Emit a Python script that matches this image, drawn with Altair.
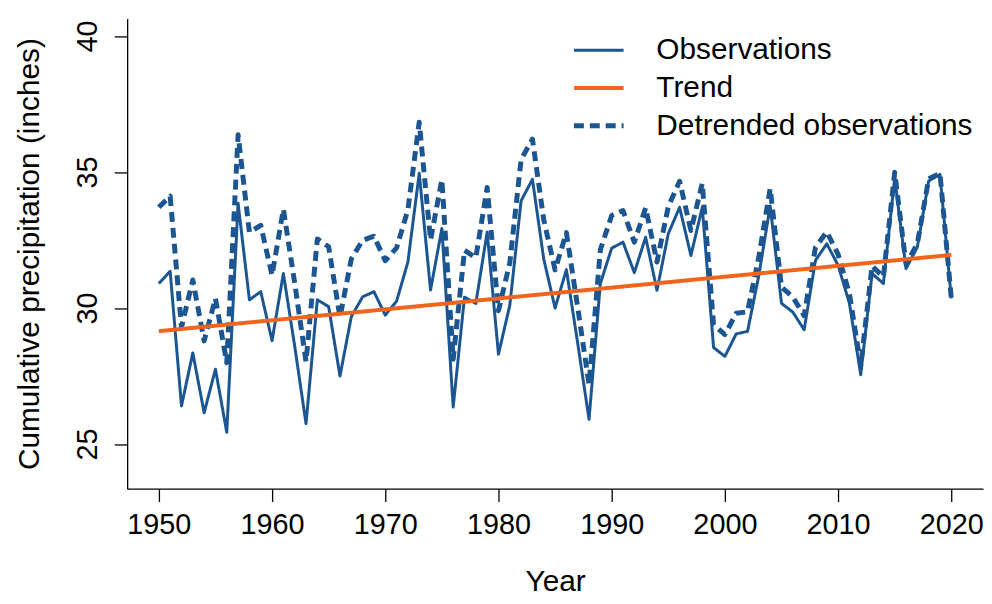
import altair as alt
import pandas as pd

years = list(range(1950, 2021))
observations = [
    30.90, 31.35, 26.40, 28.35, 26.15, 27.75, 25.43, 33.85, 30.30, 30.60,
    28.80, 31.27, 28.60, 25.75, 30.30, 30.05, 27.50, 29.68, 30.41, 30.60,
    29.74, 30.25, 31.69, 34.95, 30.66, 32.92, 26.36, 30.40, 30.17, 32.79,
    28.30, 30.10, 33.94, 34.73, 31.80, 30.00, 31.41, 28.70, 25.91, 30.90,
    32.20, 32.42, 31.30, 32.60, 30.65, 32.73, 33.70, 31.93, 33.70, 28.55,
    28.22, 29.05, 29.14, 31.20, 33.75, 30.17, 29.85, 29.20, 31.75, 32.36,
    31.57, 30.17, 27.55, 31.27, 30.90, 34.79, 31.45, 32.24, 34.67, 34.91,
    30.35,
]
detrended = [
    33.70, 34.11, 29.30, 31.03, 28.79, 30.35, 27.99, 36.37, 32.78, 33.04,
    31.20, 33.63, 30.92, 28.03, 32.54, 32.25, 29.66, 31.80, 32.49, 32.64,
    31.74, 32.21, 33.61, 36.83, 32.50, 34.72, 28.12, 32.12, 31.85, 34.43,
    29.90, 31.66, 35.46, 36.21, 33.24, 31.40, 32.77, 30.02, 27.19, 32.14,
    33.40, 33.58, 32.42, 33.68, 31.69, 33.73, 34.66, 32.85, 34.58, 29.39,
    29.02, 29.81, 29.86, 31.88, 34.39, 30.77, 30.41, 29.72, 32.23, 32.80,
    31.97, 30.53, 27.87, 31.55, 31.14, 34.99, 31.61, 32.36, 34.75, 34.95,
    30.35,
]
trend_years = [1950, 2020]
trend_values = [29.15, 31.95]

series_names = ["Observations", "Trend", "Detrended observations"]
series_colors = ["#1b5592", "#f0641e", "#1b5592"]
series_dash = [[1, 0], [1, 0], [10, 6]]
series_width = [3.0, 5.0, 3.0]
x_ticks = [1950, 1960, 1970, 1980, 1990, 2000, 2010, 2020]
y_ticks = [25, 30, 35, 40]

df = pd.concat([
    pd.DataFrame({"year": years, "value": observations, "series": "Observations"}),
    pd.DataFrame({"year": years, "value": detrended, "series": "Detrended observations"}),
    pd.DataFrame({"year": trend_years, "value": trend_values, "series": "Trend"}),
], ignore_index=True)

FONT = "Liberation Sans"
FS = 30

legend = alt.Legend(title=None, orient="none", legendX=460, legendY=17,
                    symbolType="M-2.5,0L2.5,0", symbolSize=400, labelFontSize=FS,
                    labelFont=FONT, labelColor="black", labelOffset=43,
                    rowPadding=8, labelLimit=600)

base = alt.Chart(df).encode(
    x=alt.X("year:Q",
            scale=alt.Scale(domain=[1947.2, 2022.8], nice=False, zero=False),
            axis=alt.Axis(values=x_ticks, format="d", title="Year",
                          labelPadding=9, titlePadding=28, labelFontSize=29)),
    y=alt.Y("value:Q",
            scale=alt.Scale(domain=[23.36, 40.64], nice=False, zero=False),
            axis=alt.Axis(values=y_ticks, title="Cumulative precipitation (inches)",
                          labelAngle=270, labelAlign="center", labelBaseline="bottom",
                          labelPadding=12, titlePadding=29, labelFontSize=29)),
    color=alt.Color("series:N", scale=alt.Scale(domain=series_names, range=series_colors), legend=legend),
    strokeDash=alt.StrokeDash("series:N", scale=alt.Scale(domain=series_names, range=series_dash), legend=legend),
    strokeWidth=alt.StrokeWidth("series:N", scale=alt.Scale(domain=series_names, range=series_width), legend=legend),
)

line = dict(strokeJoin="round")
obs_layer = base.transform_filter(alt.datum.series == "Observations").mark_line(**line)
det_layer = base.transform_filter(alt.datum.series == "Detrended observations").mark_line(**line)
trend_layer = base.transform_filter(alt.datum.series == "Trend").mark_line(**line)

chart = alt.layer(obs_layer, det_layer, trend_layer).properties(
    width=862, height=473.5,
    autosize=alt.AutoSizeParams(type="none"),
    padding={"left": 120, "top": 8.5, "right": 1, "bottom": 106},
    background="white",
).configure_view(stroke=None).configure_axis(
    grid=False, domainColor="black", tickColor="black", labelColor="black",
    titleColor="black", labelFont=FONT, titleFont=FONT, labelFontSize=FS,
    titleFontSize=FS, titleFontWeight="normal", tickSize=13, domainWidth=1.3,
    tickWidth=1.3,
)

chart.save("out.html", embed_options={"renderer": "svg", "actions": False})
